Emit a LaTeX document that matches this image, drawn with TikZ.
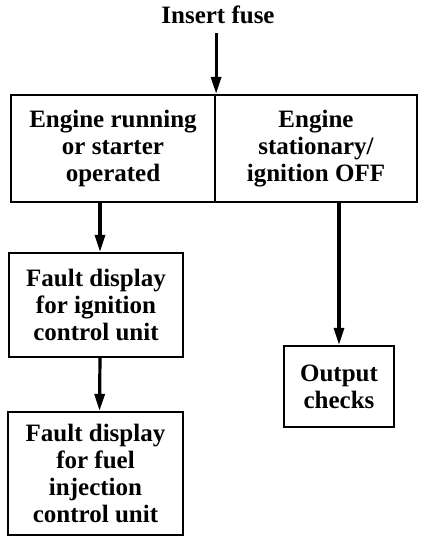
\documentclass[tikz,border=0pt]{standalone}
\usepackage{fontspec}
\setmainfont{Liberation Serif}
\usetikzlibrary{arrows.meta}
\tikzset{
  txt/.style={font=\fontsize{25}{27}\selectfont\bfseries},
  boxstyle/.style={txt, draw, line width=2.2pt, align=center, inner sep=0pt},
  arr/.style={line width=3.2pt, -{Triangle[length=17pt,width=10pt]}},
}
\begin{document}
\begin{tikzpicture}[x=1pt,y=-1pt]
\useasboundingbox (0,0) rectangle (432,550);
\node[txt] (fuse) at (218,15) {Insert fuse};
\node[boxstyle, minimum width=204pt, minimum height=107pt] (topL) at (113,148.5)
  {Engine running\\or starter\\operated};
\node[boxstyle, minimum width=202pt, minimum height=107pt] (topR) at (316,148.5)
  {Engine\\stationary/\\ignition OFF};
\node[boxstyle, minimum width=174pt, minimum height=104pt] (ign) at (96,305)
  {Fault display\\for ignition\\control unit};
\node[boxstyle, minimum width=175pt, minimum height=123pt] (fuel) at (95.5,473.5)
  {Fault display\\for fuel\\injection\\control unit};
\node[boxstyle, minimum width=110pt, minimum height=81pt] (out) at (339,386.5)
  {Output\\checks};
\draw[arr] ([yshift=-6pt]topL.north east |- fuse.south) -- (topL.north east);
\draw[arr] ([xshift=4pt]topL.south -| ign.north) -- ([xshift=4pt]ign.north);
\draw[arr] ([xshift=4pt]ign.south) -- ([xshift=4pt]fuel.north);
\draw[arr] (topR.south -| out.north) -- (out.north);
\end{tikzpicture}
\end{document}
